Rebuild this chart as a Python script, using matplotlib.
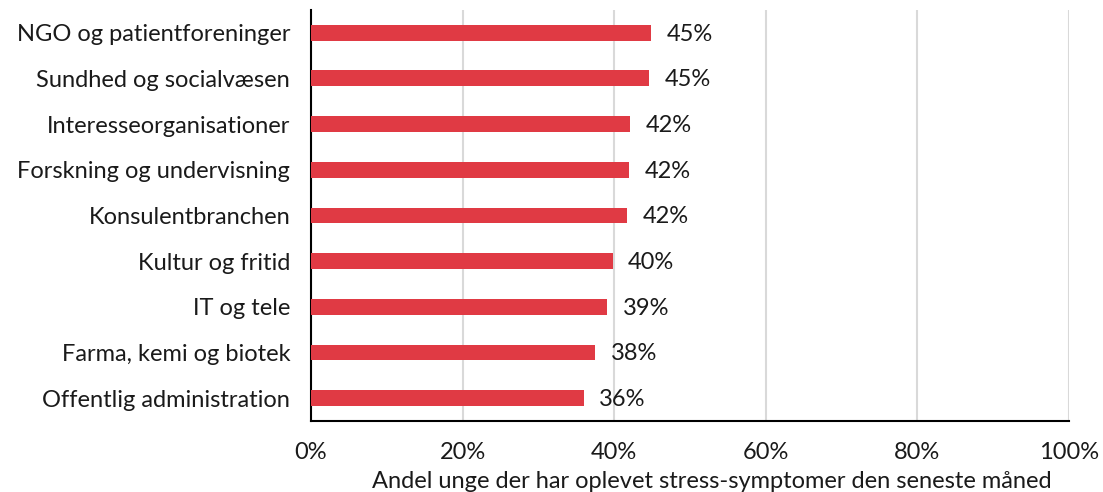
import numpy as np
import matplotlib.pyplot as plt

plt.rcParams['font.family'] = ['Lato', 'DejaVu Sans']

# Categories and shares (percent), top to bottom
categories = [
    "NGO og patientforeninger",
    "Sundhed og socialvæsen",
    "Interesseorganisationer",
    "Forskning og undervisning",
    "Konsulentbranchen",
    "Kultur og fritid",
    "IT og tele",
    "Farma, kemi og biotek",
    "Offentlig administration",
]
values = [44.9, 44.6, 42.1, 42.0, 41.7, 39.8, 39.1, 37.5, 36.0]
xticks = [0, 20, 40, 60, 80, 100]
xlabel = "Andel unge der har oplevet stress-symptomer den seneste måned"

fs = 17
txt = "#1a1a1a"

fig = plt.figure(figsize=(11.03, 4.92), dpi=100)
ax = fig.add_axes([0.282, 0.1443, 0.687, 0.8354])

y = np.arange(len(categories))
ax.barh(y, values, height=0.35, color="#E03A44", zorder=3)

# value labels to the right of each bar
for yi, v in zip(y, values):
    ax.annotate(f"{round(v):d}%", (v, yi), xytext=(11, -1), textcoords="offset points",
                va="center", ha="left", fontsize=fs, color=txt)

ax.set_yticks(y)
ax.set_yticklabels(categories, fontsize=fs, color=txt)
ax.set_ylim(len(categories) - 0.5, -0.5)

ax.set_xlim(0, 100)
ax.set_xticks(xticks)
ax.set_xticklabels([f"{t}%" for t in xticks], fontsize=fs, color=txt)
ax.set_xlabel(xlabel, fontsize=fs, color=txt, va="center")
ax.xaxis.set_label_coords(0.529, -0.148)

ax.tick_params(axis="both", length=0)
ax.tick_params(axis="x", pad=15)
ax.tick_params(axis="y", pad=15)

ax.grid(axis="x", color="#d9d9d9", linewidth=1.5, zorder=0)
for s in ["top", "right"]:
    ax.spines[s].set_visible(False)
ax.spines["left"].set_color("black")
ax.spines["left"].set_linewidth(1.5)
ax.spines["bottom"].set_color("black")
ax.spines["bottom"].set_linewidth(1.5)

plt.savefig("out.png", dpi=100)
